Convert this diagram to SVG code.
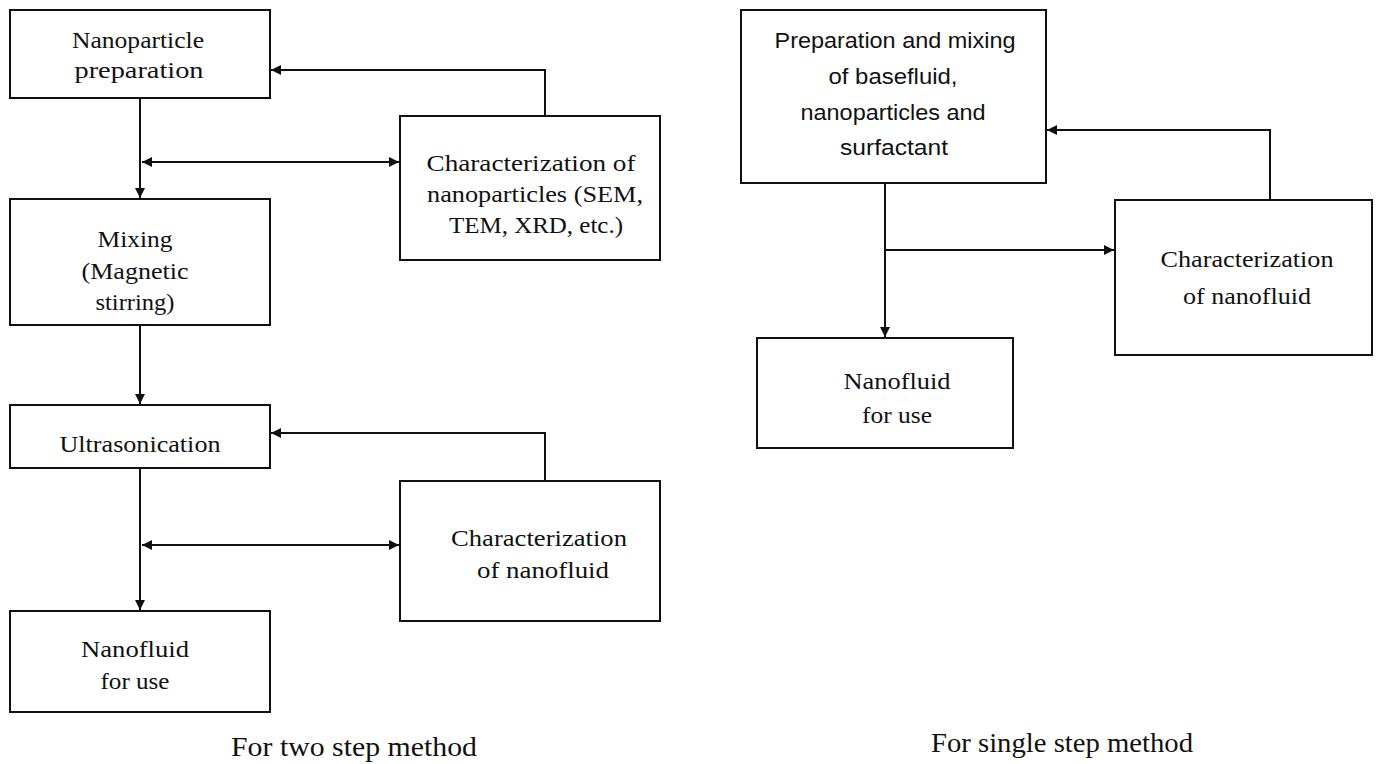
<svg xmlns="http://www.w3.org/2000/svg" width="1379" height="764" viewBox="0 0 1379 764">
<style>
.box{fill:#fff;stroke:#111;stroke-width:2}
.ln{fill:none;stroke:#111;stroke-width:2}
.t{font-family:"Liberation Serif","Times New Roman",serif;font-size:24px;fill:#111;text-anchor:middle}
.s{font-family:"Liberation Sans",Arial,sans-serif;font-size:22px;fill:#111;text-anchor:middle}
.cap{font-family:"Liberation Serif","Times New Roman",serif;font-size:28px;fill:#111;text-anchor:middle}
</style>
<defs>
<marker id="ah" viewBox="0 0 10 10" refX="10" refY="5" markerWidth="11" markerHeight="10" markerUnits="userSpaceOnUse" orient="auto-start-reverse">
<path d="M0,0 L10,5 L0,10 z" fill="#111"/>
</marker>
</defs>
<rect width="1379" height="764" fill="#fff"/>
<g id="connectors">
<path class="ln" d="M140,98 V198" marker-end="url(#ah)"/>
<path class="ln" d="M142,162 H399" marker-start="url(#ah)" marker-end="url(#ah)"/>
<path class="ln" d="M545,116 V70 H271" marker-end="url(#ah)"/>
<path class="ln" d="M140,325 V404" marker-end="url(#ah)"/>
<path class="ln" d="M545,481 V433 H271" marker-end="url(#ah)"/>
<path class="ln" d="M140,468 V610" marker-end="url(#ah)"/>
<path class="ln" d="M142,545 H399" marker-start="url(#ah)" marker-end="url(#ah)"/>
<path class="ln" d="M1270,200 V130 H1047" marker-end="url(#ah)"/>
<path class="ln" d="M885,183 V337" marker-end="url(#ah)"/>
<path class="ln" d="M885,250 H1114" marker-end="url(#ah)"/>
</g>
<g id="n1"><rect class="box" x="10" y="10" width="260" height="88"/>
<text class="t" x="138" y="48" textLength="132" lengthAdjust="spacingAndGlyphs">Nanoparticle</text>
<text class="t" x="139" y="78" textLength="129" lengthAdjust="spacingAndGlyphs">preparation</text></g>
<g id="n2"><rect class="box" x="400" y="116" width="260" height="144"/>
<text class="t" x="531" y="171" textLength="209" lengthAdjust="spacingAndGlyphs">Characterization of</text>
<text class="t" x="535" y="202" textLength="216" lengthAdjust="spacingAndGlyphs">nanoparticles (SEM,</text>
<text class="t" x="536" y="233" textLength="174" lengthAdjust="spacingAndGlyphs">TEM, XRD, etc.)</text></g>
<g id="n3"><rect class="box" x="10" y="199" width="260" height="126"/>
<text class="t" x="135" y="247" textLength="75" lengthAdjust="spacingAndGlyphs">Mixing</text>
<text class="t" x="135" y="279" textLength="107" lengthAdjust="spacingAndGlyphs">(Magnetic</text>
<text class="t" x="135" y="310" textLength="79" lengthAdjust="spacingAndGlyphs">stirring)</text></g>
<g id="n4"><rect class="box" x="10" y="405" width="260" height="63"/>
<text class="t" x="140" y="452" textLength="161" lengthAdjust="spacingAndGlyphs">Ultrasonication</text></g>
<g id="n5"><rect class="box" x="400" y="481" width="260" height="140"/>
<text class="t" x="539" y="546" textLength="176" lengthAdjust="spacingAndGlyphs">Characterization</text>
<text class="t" x="543" y="578" textLength="132" lengthAdjust="spacingAndGlyphs">of nanofluid</text></g>
<g id="n6"><rect class="box" x="10" y="611" width="260" height="101"/>
<text class="t" x="135" y="657" textLength="108" lengthAdjust="spacingAndGlyphs">Nanofluid</text>
<text class="t" x="135" y="689" textLength="69" lengthAdjust="spacingAndGlyphs">for use</text></g>
<g id="n7"><rect class="box" x="741" y="10" width="305" height="173"/>
<text class="s" x="895" y="48" textLength="241" lengthAdjust="spacingAndGlyphs">Preparation and mixing</text>
<text class="s" x="893" y="84" textLength="129" lengthAdjust="spacingAndGlyphs">of basefluid,</text>
<text class="s" x="893" y="120" textLength="185" lengthAdjust="spacingAndGlyphs">nanoparticles and</text>
<text class="s" x="894" y="155" textLength="108" lengthAdjust="spacingAndGlyphs">surfactant</text></g>
<g id="n8"><rect class="box" x="1115" y="200" width="257" height="155"/>
<text class="t" x="1247" y="267" textLength="173" lengthAdjust="spacingAndGlyphs">Characterization</text>
<text class="t" x="1247" y="304" textLength="128" lengthAdjust="spacingAndGlyphs">of nanofluid</text></g>
<g id="n9"><rect class="box" x="757" y="338" width="256" height="110"/>
<text class="t" x="897" y="389" textLength="107" lengthAdjust="spacingAndGlyphs">Nanofluid</text>
<text class="t" x="897" y="423" textLength="70" lengthAdjust="spacingAndGlyphs">for use</text></g>
<text class="cap" x="354" y="756" textLength="246" lengthAdjust="spacingAndGlyphs">For two step method</text>
<text class="cap" x="1062" y="752" textLength="262" lengthAdjust="spacingAndGlyphs">For single step method</text>
</svg>
